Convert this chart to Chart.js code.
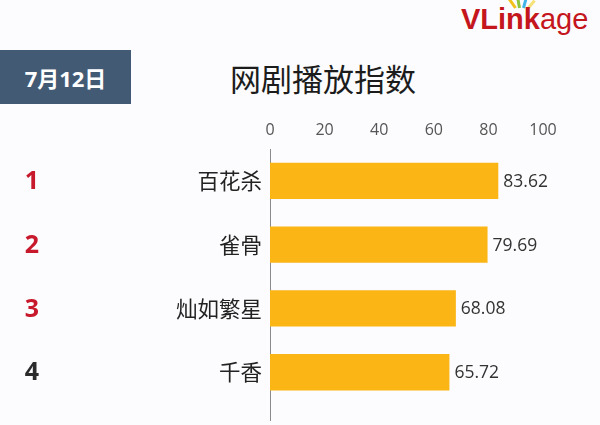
<!DOCTYPE html>
<html>
<head>
<meta charset="utf-8">
<script src="https://cdn.jsdelivr.net/npm/chart.js@4/dist/chart.umd.min.js"></script>
<style>
  body { margin: 0; background: #fcfcfe; font-family: "Open Sans", "Noto Sans CJK SC", sans-serif; }
  #wrap { position: relative; width: 600px; height: 425px; overflow: hidden; }
  #dateBox { position: absolute; left: 0; top: 50px; width: 131px; height: 54px; background: #435a75;
    color: #fff; font: bold 22px "Open Sans", "Noto Sans CJK SC", sans-serif; display: flex; align-items: center; justify-content: center; }
  #title { position: absolute; left: 213px; top: 55px; width: 220px; text-align: center;
    font: 400 31px "Noto Sans CJK SC", sans-serif; color: #1c1c1c; }
  #logo { position: absolute; left: 461px; top: 3px; font: 29px "Liberation Sans", Arial, sans-serif; color: #c4161c; }
  #logo b { font-weight: bold; }
  .leaf { position: absolute; width: 3px; height: 11px; transform-origin: bottom center; }
  canvas { position: absolute; left: 0; top: 0; }
</style>
</head>
<body>
<div id="wrap">
  <div class="leaf" style="left:514px;top:-3px;background:#f2c21b;transform:rotate(-35deg)"></div>
  <div class="leaf" style="left:518px;top:-3px;background:#8cc63f;transform:rotate(-10deg)"></div>
  <div class="leaf" style="left:522px;top:-3px;background:#41b6e6;transform:rotate(15deg)"></div>
  <div class="leaf" style="left:526px;top:-2px;background:#f6e27a;transform:rotate(40deg)"></div>
  <div id="logo"><b>VLink</b>age</div>
  <div id="dateBox">7月12日</div>
  <div id="title">网剧播放指数</div>
  <canvas id="rankChart" width="600" height="425"></canvas>
</div>
<script>
// chart data
const shows = ['百花杀', '雀骨', '灿如繁星', '千香'];
const ranks = ['1', '2', '3', '4'];
const playIndex = [83.62, 79.69, 68.08, 65.72];
const xTicks = [0, 20, 40, 60, 80, 100];

// rank numbers on the far left
const rankPlugin = {
    id: 'ranks',
    afterDraw(chart) {
        const ctx = chart.ctx;
        const y = chart.scales.y;
        ctx.save();
        ctx.font = 'bold 25px "Open Sans", sans-serif';
        ctx.textAlign = 'center';
        ctx.textBaseline = 'middle';
        ranks.forEach((r, i) => {
            ctx.fillStyle = i < 3 ? '#c8192c' : '#2b2b2b';
            ctx.fillText(r, 32, y.getPixelForValue(i) + 1);
        });
        // the axis line runs on a little below the last bar
        ctx.strokeStyle = '#8a8a8a';
        ctx.lineWidth = 1;
        ctx.beginPath();
        ctx.moveTo(chart.chartArea.left + 0.5, chart.chartArea.bottom);
        ctx.lineTo(chart.chartArea.left + 0.5, 421);
        ctx.stroke();
        ctx.restore();
    }
};

// value labels after each bar
const valuePlugin = {
    id: 'values',
    afterDatasetsDraw(chart) {
        const ctx = chart.ctx;
        ctx.save();
        ctx.font = '17.5px "Open Sans", sans-serif';
        ctx.fillStyle = '#333';
        ctx.textAlign = 'left';
        ctx.textBaseline = 'middle';
        chart.getDatasetMeta(0).data.forEach((bar, i) => {
            ctx.fillText(playIndex[i].toFixed(2), bar.x + 5, bar.y + 1);
        });
        ctx.restore();
    }
};

new Chart(document.getElementById('rankChart'), {
    type: 'bar',
    data: {
        labels: shows,
        datasets: [{
            data: playIndex,
            backgroundColor: '#fbb514',
            categoryPercentage: 1,
            barPercentage: 0.57
        }]
    },
    options: {
        indexAxis: 'y',
        responsive: false,
        animation: false,
        layout: { padding: { top: 0, right: 57, bottom: 15, left: 0 } },
        scales: {
            x: {
                position: 'top',
                min: 0,
                max: 100,
                afterBuildTicks: scale => { scale.ticks = xTicks.map(v => ({ value: v })); },
                afterFit: scale => { scale.height = 149; },
                grid: { display: false, drawTicks: false },
                border: { display: false },
                ticks: { padding: 9, color: '#555', font: { size: 16, family: '"Open Sans", sans-serif' } }
            },
            y: {
                afterFit: scale => { scale.width = 270; },
                grid: { display: false, drawTicks: false },
                border: { display: true, color: '#8a8a8a', width: 1 },
                ticks: { padding: 8, color: '#222', font: { size: 21.5, family: '"Noto Sans CJK SC", sans-serif' } }
            }
        },
        plugins: {
            legend: { display: false },
            tooltip: { enabled: false }
        }
    },
    plugins: [rankPlugin, valuePlugin]
});
</script>
</body>
</html>
